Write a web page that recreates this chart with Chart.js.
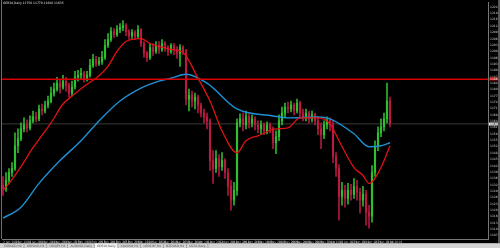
<!DOCTYPE html>
<html><head><meta charset="utf-8">
<script src="https://cdn.jsdelivr.net/npm/chart.js@4.4.1/dist/chart.umd.min.js"></script>
<style>html,body{margin:0;padding:0;background:#000;overflow:hidden}canvas{display:block}</style>
</head><body>
<canvas id="c" width="500" height="248"></canvas>
<script>
const symbolTitle = 'GER30,Daily 11750 11770 11620 11635';
const openP = [11325,11310,11350,11390,11410,11525,11560,11610,11630,11615,
11650,11670,11660,11710,11700,11730,11750,11790,11810,11840,
11820,11850,11830,11790,11820,11870,11880,11890,11860,11880,
11930,11960,11940,11950,11970,12030,12060,12100,12085,12110,
12120,12130,12100,12080,12095,12075,12110,12040,11990,11970,
12020,12000,12030,12010,12040,12020,12000,12030,12010,11990,
12020,12000,11760,11780,11750,11770,11730,11690,11670,11650,
11450,11410,11460,11420,11450,11390,11320,11250,11300,11640,
11660,11630,11670,11640,11660,11630,11610,11630,11600,11630,
11610,11540,11570,11650,11690,11720,11710,11730,11700,11740,
11690,11670,11690,11660,11680,11650,11610,11580,11630,11650,
11630,11470,11410,11270,11300,11260,11300,11280,11320,11290,
11250,11280,11190,11170,11390,11520,11590,11620,11660,11750];
const highP = [11370,11390,11410,11440,11590,11610,11640,11665,11655,11675,
11700,11695,11730,11735,11750,11775,11820,11840,11870,11860,
11880,11870,11840,11850,11900,11905,11915,11900,11900,11960,
11985,11975,11970,12000,12060,12090,12120,12115,12130,12140,
12155,12140,12110,12110,12105,12130,12115,12050,12000,12040,
12040,12050,12050,12060,12050,12030,12040,12040,12025,12035,
12030,12010,11810,11800,11790,11780,11740,11710,11690,11660,
11500,11500,11480,11490,11460,11410,11350,11340,11660,11685,
11690,11700,11685,11680,11670,11650,11650,11640,11645,11640,
11620,11600,11680,11720,11740,11745,11750,11740,11760,11750,
11710,11710,11700,11700,11690,11670,11640,11650,11670,11665,
11650,11490,11430,11340,11325,11335,11330,11360,11350,11310,
11320,11300,11225,11425,11550,11620,11660,11690,11840,11770];
const lowP = [11275,11295,11335,11370,11400,11490,11550,11595,11595,11605,
11640,11645,11650,11680,11690,11715,11740,11775,11800,11790,
11810,11800,11770,11775,11810,11850,11860,11845,11850,11870,
11920,11925,11930,11935,11960,12020,12050,12070,12075,12095,
12105,12080,12060,12065,12060,12065,12025,11970,11950,11960,
11980,11990,11990,12000,12000,11980,11990,11985,11965,11925,
11985,11730,11700,11720,11710,11690,11670,11640,11610,11400,
11335,11390,11370,11400,11360,11275,11200,11225,11275,11620,
11600,11610,11615,11620,11605,11590,11585,11580,11585,11590,
11510,11485,11550,11630,11670,11690,11695,11680,11690,11670,
11650,11650,11640,11645,11630,11580,11510,11560,11610,11600,
11440,11370,11150,11225,11215,11230,11250,11260,11250,11185,
11220,11125,11110,11140,11370,11500,11570,11600,11640,11620];
const closeP = [11310,11350,11390,11410,11525,11560,11610,11630,11615,11650,
11670,11660,11710,11700,11730,11750,11790,11810,11840,11820,
11850,11830,11790,11820,11870,11880,11890,11860,11880,11930,
11960,11940,11950,11970,12030,12060,12100,12085,12110,12120,
12130,12100,12080,12095,12075,12110,12040,11990,11970,12020,
12000,12030,12010,12040,12020,12000,12030,12010,11990,12020,
12000,11760,11780,11750,11770,11730,11690,11670,11650,11450,
11410,11460,11420,11450,11390,11320,11250,11300,11640,11660,
11630,11670,11640,11660,11630,11610,11630,11600,11630,11610,
11540,11570,11650,11690,11720,11710,11730,11700,11740,11690,
11670,11690,11660,11680,11650,11610,11580,11630,11650,11630,
11470,11410,11270,11300,11260,11300,11280,11320,11290,11250,
11280,11190,11170,11390,11520,11590,11620,11660,11750,11635];
const fastMaIdx = [0,2,6,10,16,20,23,28,31,35,38,41,46,49,52,56,60,65,69,73,78,81,85,91,95,99,105,109,112,117,120,122,126,129];
const fastMaVal = [11300,11335,11420,11515,11640,11735,11775,11835,11865,11925,12000,12050,12065,12040,12025,12010,11995,11865,11750,11600,11490,11550,11575,11610,11615,11665,11665,11635,11550,11415,11375,11335,11415,11525];
const slowMaIdx = [0,6,12,19,26,32,39,46,52,56,61,68,78,90,95,105,109,117,122,126,129];
const slowMaVal = [11160,11215,11335,11450,11550,11650,11750,11815,11850,11865,11885,11840,11710,11675,11665,11670,11660,11585,11520,11525,11540];
const hLineLevel = 11860;
const bidLevel = 11635;
const priceTicks = [11072,11104,11136,11168,11200,11232,11264,11296,11328,11360,11392,11424,11456,11488,11520,11552,11584,11616,11648,11680,11712,11744,11776,11808,11840,11872,11904,11936,11968,12000,12032,12064,12096,12128,12160,12192,12224];
const timeTickIdx = [0,4,8,12,16,20,24,28,32,36,40,44,48,52,56,60,64,68,72,76,80,84,88,92,96,100,104,108,112,116,120,124,128];
const timeLabels = ['2 Jan 2019','8 Jan 2019','14 Jan 2019','18 Jan 2019','24 Jan 2019','30 Jan 2019','5 Feb 2019','11 Feb 2019','15 Feb 2019','21 Feb 2019','27 Feb 2019','5 Mar 2019','11 Mar 2019','15 Mar 2019','21 Mar 2019','27 Mar 2019','2 Apr 2019','8 Apr 2019','12 Apr 2019','18 Apr 2019','26 Apr 2019','2 May 2019','8 May 2019','14 May 2019','20 May 2019','24 May 2019','30 May 2019','5 Jun 2019','11 Jun 2019','17 Jun 2019','21 Jun 2019','27 Jun 2019','3 Jul 2019'];
const tabLabels = ['EURUSD,H4','GBPUSD,H4','USDJPY,H4','AUDUSD,Daily','GER30,Daily','XAUUSD,H1','USDCHF,H4','NZDUSD,H4','US30,Daily'];

const UP = '#2fc02f', DN = '#b81a42';
const idx = closeP.map((_, i) => i);
const candleCol = idx.map(i => closeP[i] >= openP[i] ? UP : DN);
const X_MIN = -1/3, X_MAX = 161 + 2/3;

const deco = {
  id: 'deco',
  beforeDraw(chart) {
    const c = chart.ctx;
    c.save(); c.fillStyle = '#000'; c.fillRect(0, 0, chart.width, chart.height); c.restore();
  },
  afterDraw(chart) {
    const c = chart.ctx, a = chart.chartArea, ys = chart.scales.y;
    c.save();
    c.fillStyle = '#707070'; c.fillRect(1, 0, 1, a.bottom);
    c.fillStyle = '#e0e0e0'; c.font = '3px "DejaVu Sans"'; c.textBaseline = 'middle'; c.textAlign = 'left';
    c.fillText(symbolTitle, 3, 3.5);
    const yr = Math.round(ys.getPixelForValue(hLineLevel));
    c.fillStyle = '#d00000'; c.fillRect(489, yr - 1.5, 9, 3);
    c.fillStyle = '#fff'; c.fillText(String(hLineLevel), 490, yr);
    const yb = Math.round(ys.getPixelForValue(bidLevel));
    c.fillStyle = '#f0f0f0'; c.fillRect(489, yb - 1.5, 9, 3);
    c.fillStyle = '#000'; c.fillText(String(bidLevel), 490, yb);
    c.fillStyle = '#5a5a5a'; c.fillRect(498, 0, 2, 243);
    c.fillStyle = '#d4d4d4'; c.fillRect(0, 243, 500, 5);
    c.fillStyle = '#9a9a9a'; c.fillRect(0, 243, 500, 0.6);
    let x = 2;
    c.font = '3px "DejaVu Sans"';
    tabLabels.forEach((t, k) => {
      const w = c.measureText(t).width + 4;
      if (k === 4) { c.fillStyle = '#f4f4f4'; c.fillRect(x, 243.5, w, 4.5); }
      c.fillStyle = '#555'; c.fillText(t, x + 2, 246);
      c.fillStyle = '#888'; c.fillRect(x + w, 244, 0.6, 4);
      x += w + 1;
    });
    c.restore();
  }
};

new Chart(document.getElementById('c'), {
  type: 'bar',
  data: {
    datasets: [
      { type: 'line', data: [{x: X_MIN, y: bidLevel}, {x: X_MAX, y: bidLevel}], borderColor: '#3a3a3a', borderWidth: 1, pointRadius: 0, order: 9 },
      { type: 'bar', data: idx.map(i => ({x: i, y: [lowP[i], highP[i]]})), backgroundColor: candleCol, barThickness: 0.9, grouped: false, order: 5 },
      { type: 'bar', data: idx.map(i => ({x: i, y: [openP[i], closeP[i]]})), backgroundColor: candleCol, barThickness: 1.5, grouped: false, order: 4 },
      { type: 'line', data: slowMaIdx.map((x, k) => ({x, y: slowMaVal[k]})), borderColor: '#1e8fd2', borderWidth: 1.4, pointRadius: 0, cubicInterpolationMode: 'monotone', order: 3 },
      { type: 'line', data: fastMaIdx.map((x, k) => ({x, y: fastMaVal[k]})), borderColor: '#e01212', borderWidth: 1.3, pointRadius: 0, cubicInterpolationMode: 'monotone', order: 2 },
      { type: 'line', data: [{x: X_MIN, y: hLineLevel}, {x: X_MAX, y: hLineLevel}], borderColor: '#d80000', borderWidth: 1.4, pointRadius: 0, order: 1 }
    ]
  },
  options: {
    responsive: false, animation: false, devicePixelRatio: 1,
    layout: { padding: { top: 1, left: 2, right: 0, bottom: 0 } },
    plugins: { legend: { display: false }, tooltip: { enabled: false } },
    scales: {
      x: {
        type: 'linear', min: X_MIN, max: X_MAX, offset: false,
        afterBuildTicks: s => { s.ticks = timeTickIdx.map(v => ({value: v})); },
        afterFit: s => { s.height = 9; },
        grid: { drawOnChartArea: false, drawTicks: true, tickLength: 1, color: '#777' },
        border: { display: true, color: '#777', width: 1 },
        ticks: { autoSkip: false, maxRotation: 0, minRotation: 0, align: 'start', padding: 0, color: '#bdbdbd', font: { size: 3, family: 'DejaVu Sans' }, callback: (v, k) => timeLabels[k] }
      },
      y: {
        position: 'right', min: 11055, max: 12245,
        afterBuildTicks: s => { s.ticks = priceTicks.map(v => ({value: v})); },
        afterFit: s => { s.width = 12; },
        grid: { drawOnChartArea: false, drawTicks: true, tickLength: 1, color: '#888' },
        border: { display: true, color: '#777', width: 1 },
        ticks: { autoSkip: false, padding: 1, color: '#d0d0d0', font: { size: 3, family: 'DejaVu Sans' }, callback: v => String(v) }
      }
    }
  },
  plugins: [deco]
});
</script>
</body></html>
